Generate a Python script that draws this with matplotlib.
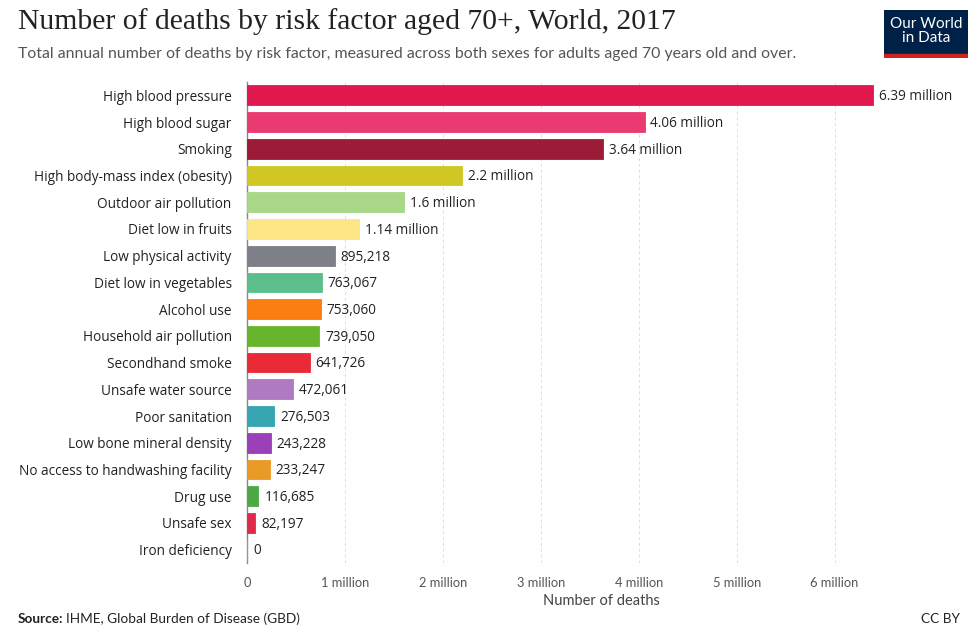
import matplotlib

matplotlib.use("Agg")
import matplotlib.pyplot as plt
from matplotlib.patches import Rectangle

# values
factors = [
    "High blood pressure", "High blood sugar", "Smoking",
    "High body-mass index (obesity)", "Outdoor air pollution",
    "Diet low in fruits", "Low physical activity", "Diet low in vegetables",
    "Alcohol use", "Household air pollution", "Secondhand smoke",
    "Unsafe water source", "Poor sanitation", "Low bone mineral density",
    "No access to handwashing facility", "Drug use", "Unsafe sex",
    "Iron deficiency",
]
deaths = [
    6390000, 4060000, 3640000, 2200000, 1600000, 1140000, 895218, 763067,
    753060, 739050, 641726, 472061, 276503, 243228, 233247, 116685, 82197, 0,
]
value_labels = [
    "6.39 million", "4.06 million", "3.64 million", "2.2 million",
    "1.6 million", "1.14 million", "895,218", "763,067", "753,060",
    "739,050", "641,726", "472,061", "276,503", "243,228", "233,247",
    "116,685", "82,197", "0",
]
colors = [
    "#e0184f", "#ea3a72", "#9c1c37", "#d0c724", "#a7d787", "#fde685",
    "#7d8088", "#5cbf8b", "#fb7e12", "#67b52c", "#ea2a36", "#b07ac2",
    "#36a5b1", "#9b40b6", "#e99a27", "#4ca945", "#e12a4b", "#999999",
]
xticks = [0, 1e6, 2e6, 3e6, 4e6, 5e6, 6e6]
xtick_labels = ["0", "1 million", "2 million", "3 million", "4 million",
                "5 million", "6 million"]

SANS = ["Open Sans", "DejaVu Sans"]
LATO = ["Lato", "DejaVu Sans"]

fig = plt.figure(figsize=(9.8, 6.42), dpi=100)
ax = fig.add_axes([247 / 980, 1 - 563 / 642, (955 - 247) / 980, (563 - 82) / 642])

n = len(factors)
ys = list(range(n))
ax.barh(ys, deaths, height=0.74, color=colors, edgecolor=colors, linewidth=0.6, zorder=3)
for y, v, lab in zip(ys, deaths, value_labels):
    ax.text(v + 60000, y + 0.05, lab, va="center", ha="left", fontsize=9.8,
            family=SANS, color="#222222")

ax.set_ylim(n - 0.5, -0.5)
ax.set_xlim(0, 7.23e6)
ax.set_yticks(ys)
ax.set_yticklabels(factors, family=SANS, fontsize=9.8, color="#222222")
ax.tick_params(axis="y", length=0, pad=11)
ax.set_xticks(xticks)
ax.set_xticklabels(xtick_labels, family=LATO, fontsize=9.3, color="#555555")
ax.tick_params(axis="x", length=0, pad=10)
ax.grid(axis="x", color="#dddddd", ls=(0, (3, 3)), lw=0.7, zorder=0)
for s in ["top", "right", "bottom"]:
    ax.spines[s].set_visible(False)
ax.spines["left"].set_color("#888888")
ax.spines["left"].set_linewidth(1.0)
ax.set_xlabel("Number of deaths", family=LATO, fontsize=10.5, color="#444444", labelpad=4)

fig.text(18 / 980, 1 - 22 / 642, "Number of deaths by risk factor aged 70+, World, 2017",
         family=["Liberation Serif", "DejaVu Serif"], fontsize=21.3, color="#222222",
         va="center", ha="left")
fig.text(18 / 980, 1 - 54 / 642,
         "Total annual number of deaths by risk factor, measured across both sexes for adults aged 70 years old and over.",
         family=LATO, fontsize=11.4, color="#555555", va="center", ha="left")

# OWID logo
logo = fig.add_axes([884 / 980, 1 - 58 / 642, 84 / 980, 48 / 642])
logo.set_xlim(0, 1)
logo.set_ylim(0, 1)
logo.axis("off")
logo.add_patch(Rectangle((0, 0), 1, 1, color="#002147"))
logo.add_patch(Rectangle((0, 0), 1, 0.09, color="#ce261e"))
logo.text(0.5, 0.56, "Our World\nin Data", color="white", ha="center", va="center",
          family=LATO, fontsize=11, linespacing=1.0)

fig.text(18 / 980, 1 - 619 / 642, "Source:", family=LATO, fontsize=9.8,
         fontweight="bold", color="#222222", va="center")
fig.text(66 / 980, 1 - 619 / 642, "IHME, Global Burden of Disease (GBD)", family=LATO,
         fontsize=9.8, color="#222222", va="center")
fig.text(960 / 980, 1 - 619 / 642, "CC BY", family=LATO, fontsize=9.8,
         color="#222222", va="center", ha="right")

fig.savefig("out.png", dpi=100, facecolor="white")
